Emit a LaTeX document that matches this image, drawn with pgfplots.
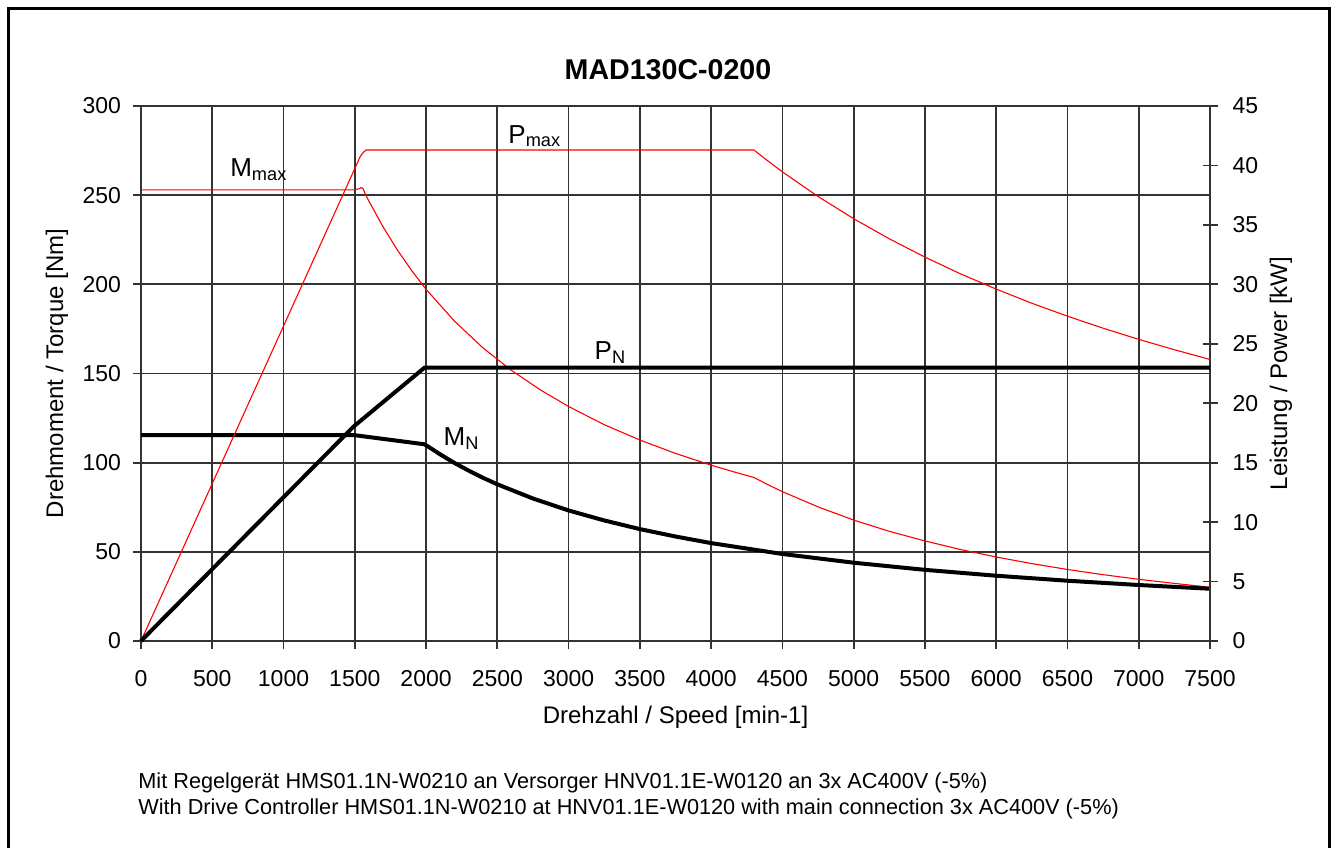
\documentclass[border=0pt]{standalone}
\usepackage{pgfplots}
\pgfplotsset{compat=1.18}
\usepackage{fontspec}
\setmainfont{Liberation Sans}

% 1 px of the reference = 0.5pt
\newcommand{\tickfont}{\fontsize{11.5}{13}\selectfont}
\newcommand{\labfont}{\fontsize{12}{14}\selectfont}
\newcommand{\curvefont}{\fontsize{13}{15}\selectfont}
\newcommand{\notefont}{\fontsize{10.85}{12}\selectfont}

\pgfplotsset{
  motor/.style={
    scale only axis,
    width=534.5pt, height=267.5pt,
    at={(70.5pt,103pt)}, anchor=south west,
    xmin=0, xmax=7500,
    scaled ticks=false,
    /pgf/number format/1000 sep={},
    /pgf/number format/assume math mode=true,
    tick label style={font=\tickfont},
    label style={font=\labfont},
    axis line style={black!80, line width=0.85pt},
    tick style={black!80, line width=0.85pt},
  },
  redline/.style={red, line width=0.55pt, line join=round},
  blackline/.style={black, line width=2pt, line join=round},
}

\begin{document}
\begin{tikzpicture}[x=0.5pt, y=0.5pt]
\path[use as bounding box] (0,0) rectangle (1338,847);

% torque axis
\begin{axis}[motor,
    ymin=0, ymax=300,
    xtick={0,500,...,7500},
    ytick={0,50,...,300},
    xtick pos=bottom, ytick pos=left,
    tick align=outside, major tick length=4pt,
    x tick label style={yshift=-7pt},
    y tick label style={xshift=-2.5pt},
    grid=major,
    major grid style={black!80, line width=0.85pt},
    xlabel={Drehzahl / Speed [min-1]},
    ylabel={Drehmoment / Torque [Nm]},
    xlabel style={at={(axis description cs:0.5,-0.142)}, anchor=center},
    ylabel style={at={(axis description cs:-0.0786,0.5)}, anchor=center},
    title={\bfseries MAD130C-0200},
    every axis title shift=0pt,
    title style={font=\fontsize{14.3}{16}\selectfont, at={(axis description cs:0.493,1.0673)}, anchor=center},
    clip=false,
]
% M_max
\addplot[redline] coordinates {
  (0,253) (1500,253) (1530,253.6) (1545,254.3) (1558,253.6) (1575,250.4)
  (1600,246.5) (1700,232.0) (1800,219.1) (1900,207.6) (2000,197.2)
  (2200,179.3) (2400,164.3) (2600,151.7) (2800,140.9) (3000,131.5)
  (3250,121.3) (3500,112.7) (3750,105.2) (4000,98.6) (4200,93.9)
  (4300,91.7) (4400,87.6) (4500,83.75) (4750,75.2) (5000,67.8)
  (5250,61.5) (5500,56.1) (5750,51.3) (6000,47.1) (6250,43.4)
  (6500,40.1) (6750,37.2) (7000,34.6) (7250,32.3) (7500,30.15)
};
% M_N
\addplot[blackline] coordinates {
  (0,115.5) (1490,115.5) (1990,110.3) (2100,104.6) (2200,99.8)
  (2300,95.5) (2400,91.5) (2500,87.85) (2750,79.9) (3000,73.2)
  (3250,67.6) (3500,62.75) (3750,58.6) (4000,54.9) (4500,48.8)
  (5000,43.9) (5500,39.9) (6000,36.6) (6500,33.8) (7000,31.4)
  (7500,29.3)
};
\node[font=\curvefont, anchor=base west, inner sep=0pt] at (axis cs:624,260.4) {M\textsubscript{max}};
\node[font=\curvefont, anchor=base west, inner sep=0pt] at (axis cs:2575,279.2) {P\textsubscript{max}};
\node[font=\curvefont, anchor=base west, inner sep=0pt] at (axis cs:3180,158.1) {P\textsubscript{N}};
\node[font=\curvefont, anchor=base west, inner sep=0pt] at (axis cs:2121,109.9) {M\textsubscript{N}};
\end{axis}

% power axis
\begin{axis}[motor,
    ymin=0, ymax=45,
    axis x line=none,
    axis y line*=right,
    ytick={0,5,...,45},
    tick align=center, major tick length=7.5pt,
    y tick label style={xshift=4pt},
    ylabel={Leistung / Power [kW]},
    ylabel style={at={(axis description cs:1.0664,0.5)}, anchor=center},
    clip=false,
]
% P_max
\addplot[redline] coordinates {
  (0,0) (1500,39.74) (1540,40.8) (1560,41.1) (1580,41.3) (4300,41.3)
  (4400,40.36) (4500,39.46) (4750,37.39) (5000,35.52) (5250,33.83)
  (5500,32.29) (5750,30.88) (6000,29.60) (6250,28.41) (6500,27.32)
  (6750,26.31) (7000,25.37) (7250,24.50) (7500,23.68)
};
% P_N
\addplot[blackline] coordinates {
  (0,0) (1490,18.02) (1990,23.0) (7500,23.0)
};
\end{axis}

% frame (open at the bottom edge of the picture)
\draw[black, line width=1.5pt] (8.5,-10) -- (8.5,838.5) -- (1329.5,838.5) -- (1329.5,-10);

% footnote
\node[font=\notefont, anchor=base west, inner sep=0pt] at (138,59)
  {Mit Regelgerät HMS01.1N-W0210 an Versorger HNV01.1E-W0120 an 3x AC400V (-5\%)};
\node[font=\notefont, anchor=base west, inner sep=0pt] at (138,33)
  {With Drive Controller HMS01.1N-W0210 at HNV01.1E-W0120 with main connection 3x AC400V (-5\%)};
\end{tikzpicture}
\end{document}
